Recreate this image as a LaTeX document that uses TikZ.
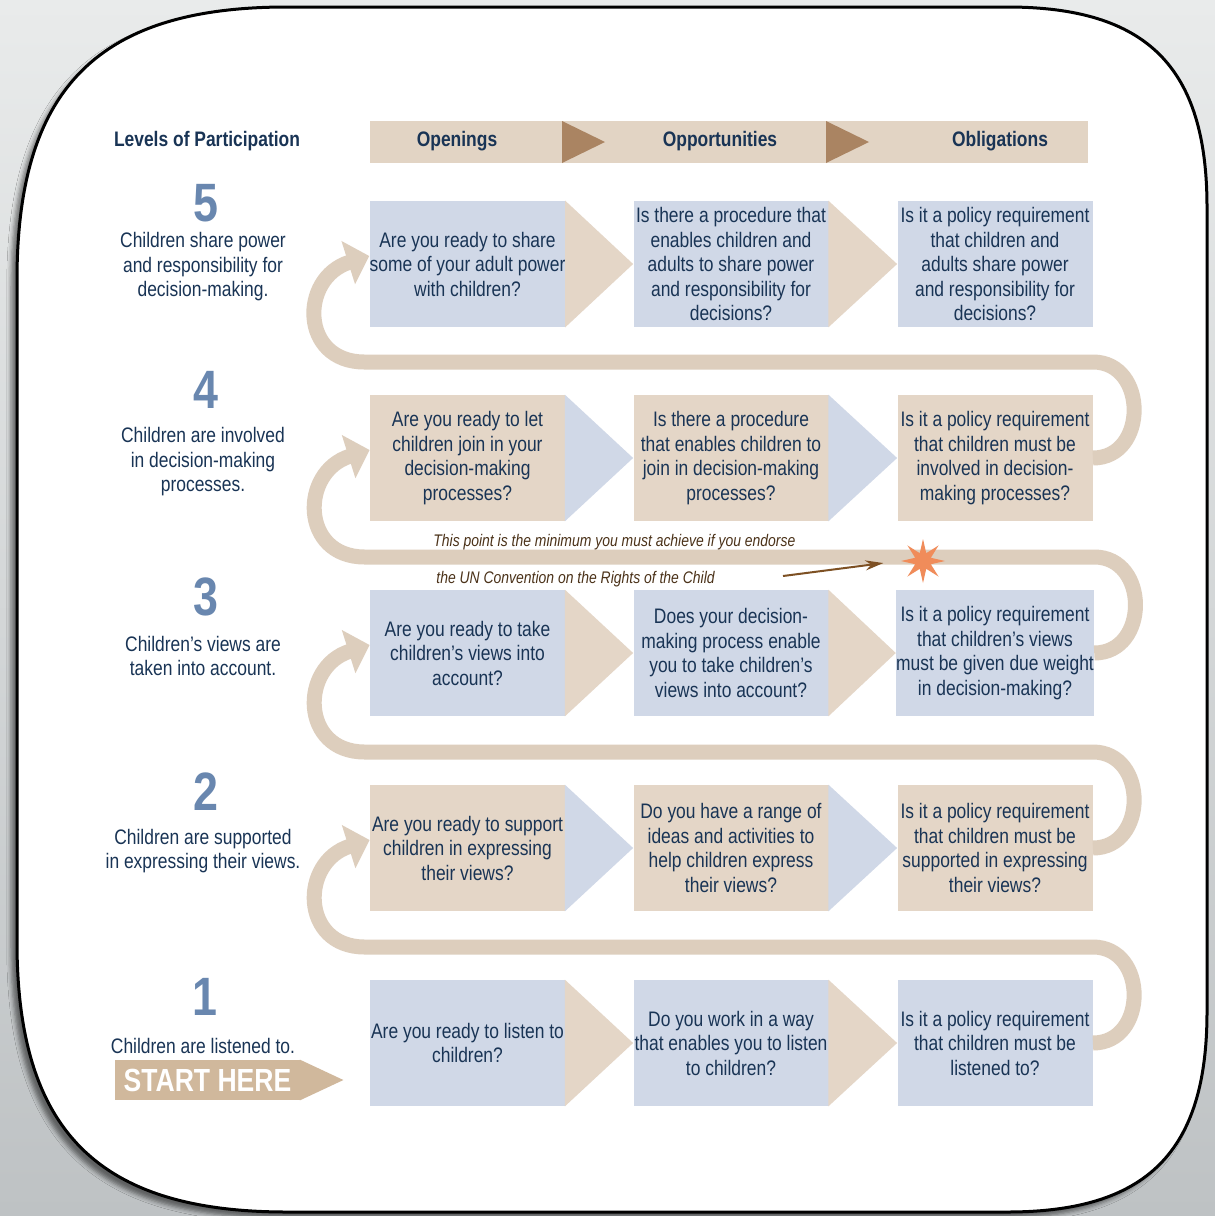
\documentclass[tikz,border=0pt]{standalone}
\usepackage{fontspec}
\setmainfont[FakeStretch=0.83]{Liberation Sans}
\usetikzlibrary{%
  arrows,%
  arrows.meta,%
  shapes.geometric,% wg. star
  shadows.blur,%
  positioning%
}

\definecolor{navy}{RGB}{25,52,85}
\definecolor{numblue}{RGB}{105,135,175}
\definecolor{boxblue}{RGB}{208,216,231}
\definecolor{boxtan}{RGB}{228,214,199}
\definecolor{headtan}{RGB}{226,212,196}
\definecolor{headarrow}{RGB}{170,132,98}
\definecolor{bandtan}{RGB}{221,206,189}
\definecolor{starttan}{RGB}{208,184,156}
\definecolor{starorange}{RGB}{240,140,90}
\definecolor{pointer}{RGB}{125,80,35}
\definecolor{notebrown}{RGB}{75,50,25}
\definecolor{bgtop}{RGB}{233,235,235}
\definecolor{bgbot}{RGB}{190,194,196}

\begin{document}
\begin{tikzpicture}[
  x=0.5pt, y=-0.5pt,
  font=\fontsize{10.5}{12.25}\selectfont, >=stealth',
  qbox/.style={rectangle, minimum width=97.5pt, minimum height=63pt, inner sep=0pt, text=navy, align=center},
  bluebox/.style={qbox, fill=boxblue},
  tanbox/.style={qbox, fill=boxtan},
  level/.style={text=navy, align=center, inner sep=0pt},
  num/.style={text=numblue, inner sep=0pt, font=\fontsize{27}{27}\selectfont\bfseries},
  head/.style={text=navy, inner sep=0pt, font=\fontsize{10.5}{12}\selectfont\bfseries},
  note/.style={text=notebrown, inner sep=0pt, anchor=west, font=\fontsize{8.4}{10}\selectfont\itshape},
  band/.style={draw=bandtan, line width=7.5pt, -{Triangle[width=22pt,length=11pt]}}
]
\useasboundingbox (0,0) rectangle (1215,1216);

% background and frame
\shade[top color=bgtop, bottom color=bgbot] (0,0) rectangle (1215,1216);
\path[fill=white, draw=black, line width=1.5pt,
  blur shadow={shadow xshift=-3pt, shadow yshift=-3pt, shadow opacity=50}]
  (17,280) .. controls (17,88) and (98,7) .. (287,7) -- (1007,7)
  .. controls (1147,7) and (1207,67) .. (1207,207) -- (1207,1012)
  .. controls (1207,1152) and (1147,1212) .. (1007,1212) -- (287,1212)
  .. controls (98,1212) and (17,1131) .. (17,942) -- cycle;

% header
\node[head] (hlevels) at (207,141) {Levels of Participation};
\node[fill=headtan, minimum width=359pt, minimum height=21pt, inner sep=0pt] (hbar) at (729,142) {};
\fill[headarrow] (562,121) -- (605,142) -- (562,163) -- cycle;
\fill[headarrow] (826,121) -- (869,142) -- (826,163) -- cycle;
\node[head] (hopen) at (457,141) {Openings};
\node[head] (hopp) at (720,141) {Opportunities};
\node[head] (hobl) at (1000,141) {Obligations};

% levels
\node[num] (n5) at (206,203) {5};
\node[level] (l5) at (203,267) {Children share power\\and responsibility for\\decision-making.};
\node[num] (n4) at (206,390) {4};
\node[level] (l4) at (203,462) {Children are involved\\in decision-making\\processes.};
\node[num] (n3) at (206,597) {3};
\node[level] (l3) at (203,656) {Children's views are\\taken into account.};
\node[num] (n2) at (206,792) {2};
\node[level] (l2) at (203,851) {Children are supported\\in expressing their views.};
\node[num] (n1) at (205,997) {1};
\node[level] (l1) at (203,1046) {Children are listened to.};

\node[fill=starttan, minimum width=92.5pt, minimum height=20pt, inner sep=0pt,
  text=white, font=\fontsize{16}{16}\selectfont\bfseries] (start) at (207.5,1080) {START HERE};
\fill[starttan] ([xshift=-0.3pt]start.north east) -- ([xshift=21.5pt]start.east) -- ([xshift=-0.3pt]start.south east) -- cycle;

% questions
\node[bluebox] (o5) at (467.5,264) {Are you ready to share\\some of your adult power\\with children?};
\node[bluebox] (p5) at (731,264) {Is there a procedure that\\enables children and\\adults to share power\\and responsibility for\\decisions?};
\node[bluebox] (b5) at (995,264) {Is it a policy requirement\\that children and\\adults share power\\and responsibility for\\decisions?};

\node[tanbox] (o4) at (467.5,458) {Are you ready to let\\children join in your\\decision-making\\processes?};
\node[tanbox] (p4) at (731,458) {Is there a procedure\\that enables children to\\join in decision-making\\processes?};
\node[tanbox] (b4) at (995,458) {Is it a policy requirement\\that children must be\\involved in decision-\\making processes?};

\node[bluebox] (o3) at (467.5,653) {Are you ready to take\\children's views into\\account?};
\node[bluebox] (p3) at (731,653) {Does your decision-\\making process enable\\you to take children's\\views into account?};
\node[bluebox] (b3) at (995,653) {Is it a policy requirement\\that children's views\\must be given due weight\\in decision-making?};

\node[tanbox] (o2) at (467.5,848) {Are you ready to support\\children in expressing\\their views?};
\node[tanbox] (p2) at (731,848) {Do you have a range of\\ideas and activities to\\help children express\\their views?};
\node[tanbox] (b2) at (995,848) {Is it a policy requirement\\that children must be\\supported in expressing\\their views?};

\node[bluebox] (o1) at (467.5,1043) {Are you ready to listen to\\children?};
\node[bluebox] (p1) at (731,1043) {Do you work in a way\\that enables you to listen\\to children?};
\node[bluebox] (b1) at (995,1043) {Is it a policy requirement\\that children must be\\listened to?};

% steps between columns
\foreach \r/\c in {5/boxtan,4/boxblue,3/boxtan,2/boxblue,1/boxtan} {
  \fill[\c] ([xshift=-0.3pt]o\r.north east) -- (p\r.west) -- ([xshift=-0.3pt]o\r.south east) -- cycle;
  \fill[\c] ([xshift=-0.3pt]p\r.north east) -- (b\r.west) -- ([xshift=-0.3pt]p\r.south east) -- cycle;
}

% loops up to the next level
\coordinate (g1) at (700,947);
\coordinate (g2) at (700,752);
\coordinate (g3) at (700,557);
\coordinate (g4) at (700,362);
\foreach \r/\s in {1/2,2/3,3/4,4/5} {
  \draw[band] (b\r.east) .. controls +(55,0) and +(55,0) .. (b\r.east |- g\r)
    -- ([xshift=-2.5pt]o\s.west |- g\r)
    .. controls +(-64,0) and +(-70,22) .. ([yshift=4pt]o\s.west);
}

% minimum for the Convention
\node[star, star points=8, star point ratio=2.6, minimum size=22pt, inner sep=0pt, fill=starorange] (burst) at (923,561) {};
\node[note] (note1) at (433,542) {This point is the minimum you must achieve if you endorse};
\node[note] (note2) at (436,579) {the UN Convention on the Rights of the Child};
\coordinate (ptr) at (783,576);
\draw[-{Stealth[length=9pt,width=5pt]}, draw=pointer, line width=1pt, shorten >=8pt] (ptr) -- (burst.west);
\end{tikzpicture}
\end{document}
